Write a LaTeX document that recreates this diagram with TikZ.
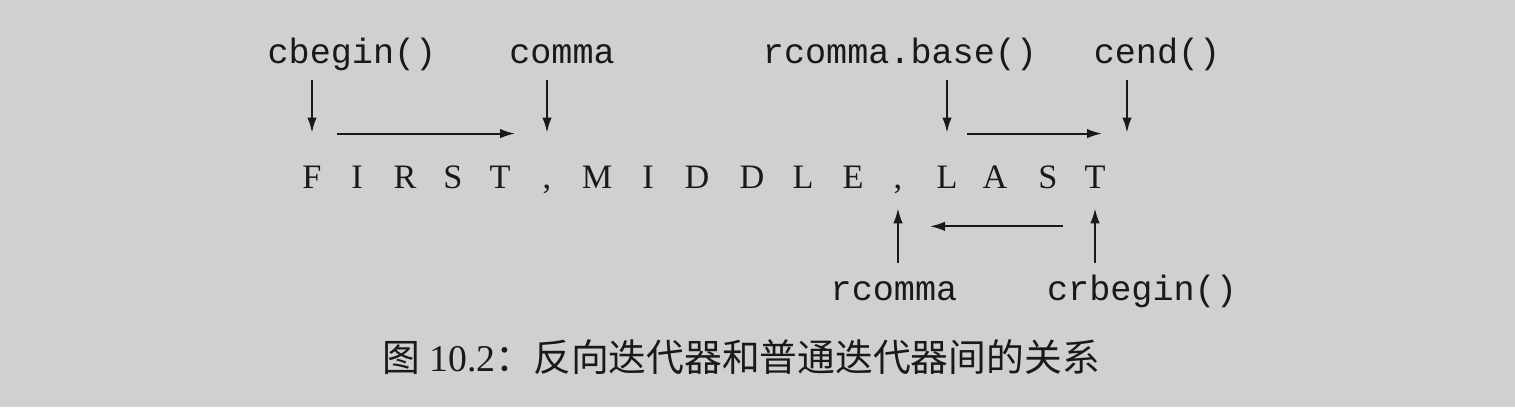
\documentclass[tikz,border=0pt]{standalone}
\usepackage{fontspec}
\setmainfont{Liberation Serif}
\setmonofont{Liberation Mono}
\newfontfamily\cjk{Noto Sans CJK SC}
\usetikzlibrary{positioning,arrows.meta}
\definecolor{paper}{RGB}{208,208,208}
\definecolor{ink}{RGB}{25,25,25}

\begin{document}
\begin{tikzpicture}[x=0.02cm,y=-0.02cm,>={Latex[length=3mm,width=1.9mm]},
  ptr/.style={font=\ttfamily\fontsize{20}{24}\selectfont,inner sep=0pt,text height=14pt,text depth=5pt,anchor=base,text=ink},
  chr/.style={font=\fontsize{19.5}{23}\selectfont,inner sep=0pt,text height=12pt,text depth=0pt,anchor=base,text=ink},
  arr/.style={->,draw=ink,line width=1.1pt}]
\fill[paper] (0,0) rectangle (1515,407);
\useasboundingbox (0,0) rectangle (1515,407);
\foreach \ch/\x [count=\i] in {F/312,I/357,R/405,S/453,T/500,{,}/547,M/597,I/648,D/697,D/752,L/803,E/853,{,}/898,L/947,A/995,S/1048,T/1095}
  \node[chr] (c\i) at (\x,188) {\ch};
\coordinate[right=0.64cm of c17.north] (past);
\node[ptr] (cbegin) at (352,63) {cbegin()};
\node[ptr] (comma) at (562,63) {comma};
\node[ptr] (base) at (900,63) {rcomma.base()};
\node[ptr] (cend) at (1157,63) {cend()};
\node[ptr] (rcomma) at (894,300) {rcomma};
\node[ptr] (crbegin) at (1142,300) {crbegin()};
\draw[arr,shorten <=0.164cm,shorten >=0.68cm] (cbegin.south -| c1) -- (c1.north);
\draw[arr,shorten <=0.164cm,shorten >=0.68cm] (comma.south -| c6) -- (c6.north);
\draw[arr,shorten <=0.164cm,shorten >=0.68cm] (base.south -| c14) -- (c14.north);
\draw[arr,shorten <=0.164cm,shorten >=0.68cm] (cend.south -| past) -- (past);
\draw[arr,shorten <=0.5cm,shorten >=0.64cm] ([yshift=0.66cm]c1.north) -- ([yshift=0.66cm]c6.north);
\draw[arr,shorten <=0.4cm,shorten >=0.5cm] ([yshift=0.66cm]c14.north) -- ([yshift=0.66cm]past);
\draw[arr,shorten <=0.25cm,shorten >=0.4cm] (rcomma.north -| c13) -- (c13.south);
\draw[arr,shorten <=0.25cm,shorten >=0.4cm] (crbegin.north -| c17) -- (c17.south);
\draw[arr,shorten <=0.64cm,shorten >=0.64cm] ([yshift=-0.76cm]c17.south) -- ([yshift=-0.76cm]c13.south);
\node[font=\fontsize{21.5}{25}\selectfont,text=ink] (cap) at (741,357) {{\cjk 图} 10.2{\cjk ：反向迭代器和普通迭代器间的关系}};
\end{tikzpicture}
\end{document}
